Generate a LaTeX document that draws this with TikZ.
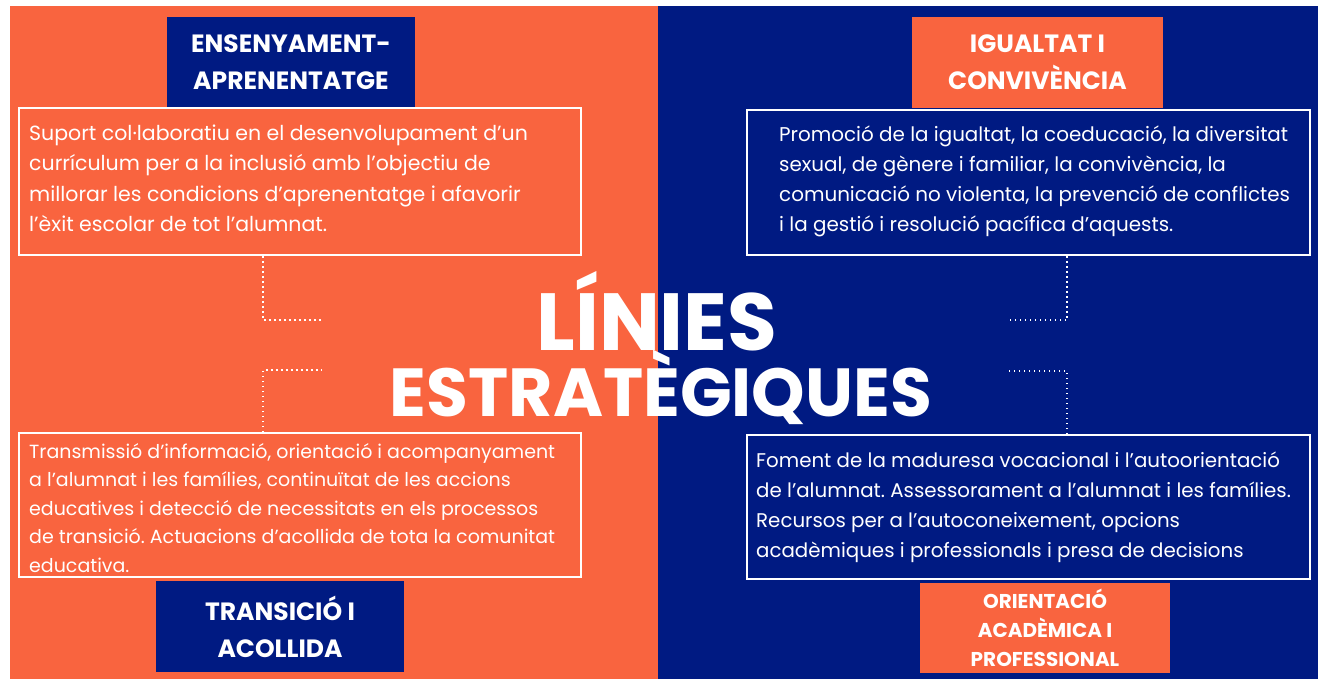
\documentclass[tikz,border=0pt]{standalone}
\usepackage{fontspec}
\setmainfont{Poppins}
\usetikzlibrary{calc}
\definecolor{orng}{RGB}{249,100,63}
\definecolor{navy}{RGB}{0,26,130}
\frenchspacing
\begin{document}
\begin{tikzpicture}[x=1pt,y=-1pt,
  headbox/.style={rectangle, inner sep=0pt, align=center, text=white,
    font=\fontsize{25}{37}\selectfont\bfseries},
  txtbox/.style={rectangle, draw=white, line width=1.8pt, inner sep=0pt},
  body/.style={inner sep=0pt, align=left, text=white, anchor=base west},
  dotline/.style={draw=white, line width=1.6pt, dash pattern=on 1.6pt off 3.4pt},
  titletext/.style={inner sep=0pt, text=white, anchor=base, font=\bfseries}]
\useasboundingbox (0,0) rectangle (1320,679);
\fill[white] (0,0) rectangle (1320,679);
% panels
\fill[orng] (10,6) rectangle (658,679);
\fill[navy] (658,6) rectangle (1318,679);
% heading boxes
\node[headbox, fill=navy, minimum width=248pt, minimum height=91pt] (h1) at (291,62.5) {ENSENYAMENT-\\APRENENTATGE};
\node[headbox, fill=orng, minimum width=251pt, minimum height=91pt] (h2) at (1037.5,62.5) {IGUALTAT I\\CONVIVÈNCIA};
\node[headbox, fill=navy, minimum width=248pt, minimum height=91pt] (h3) at (280,626.5) {TRANSICIÓ I\\ACOLLIDA};
\node[headbox, fill=orng, minimum width=250pt, minimum height=90pt,
  font=\fontsize{20}{29}\selectfont\bfseries] (h4) at (1045,628) {ORIENTACIÓ\\ACADÈMICA I\\PROFESSIONAL};
% text boxes
\node[txtbox, minimum width=562pt, minimum height=147pt] (b1) at (300,181.5) {};
\node[txtbox, minimum width=563pt, minimum height=145pt] (b2) at (1028.5,182.5) {};
\node[txtbox, minimum width=562pt, minimum height=144pt] (b3) at (300,505) {};
\node[txtbox, minimum width=563pt, minimum height=144pt] (b4) at (1028.5,507) {};
% texts (anchored at the baseline of their last line)
\node[body, font=\fontsize{20.5}{30.5}\selectfont] (t1) at (29,232) {Suport col·laboratiu en el desenvolupament d'un\\currículum per a la inclusió amb l'objectiu de\\millorar les condicions d'aprenentatge i afavorir\\l'èxit escolar de tot l'alumnat.};
\node[body, font=\fontsize{19.9}{30}\selectfont] (t2) at (779,232) {Promoció de la igualtat, la coeducació, la diversitat\\sexual, de gènere i familiar, la convivència, la\\comunicació no violenta, la prevenció de conflictes\\i la gestió i resolució pacífica d'aquests.};
\node[body, font=\fontsize{19}{28.5}\selectfont] (t3) at (29,572) {Transmissió d'informació, orientació i acompanyament\\a l'alumnat i les famílies, continuïtat de les accions\\educatives i detecció de necessitats en els processos\\de transició. Actuacions d'acollida de tota la comunitat\\educativa.};
\node[body, font=\fontsize{19.8}{29.7}\selectfont] (t4) at (756,557) {Foment de la maduresa vocacional i l'autoorientació\\de l'alumnat. Assessorament a l'alumnat i les famílies.\\Recursos per a l'autoconeixement, opcions\\acadèmiques i professionals i presa de decisions};
% connectors
\coordinate (k1) at (263,320); \coordinate (e1) at (322,320);
\coordinate (k2) at (1067,320); \coordinate (e2) at (1007,320);
\coordinate (k3) at (263,370); \coordinate (e3) at (322,370);
\coordinate (k4) at (1067,371); \coordinate (e4) at (1007,371);
\draw[dotline] (b1.south -| k1) |- (e1);
\draw[dotline] (b2.south -| k2) |- (e2);
\draw[dotline] (b3.north -| k3) |- (e3);
\draw[dotline] (b4.north -| k4) |- (e4);
% title
\node[titletext, font=\fontsize{81}{81}\selectfont\bfseries] (T1) at (657,350) {LÍNIES};
\node[titletext, font=\fontsize{68}{68}\selectfont\bfseries] (T2) at (661,416) {ESTRATÈGIQUES};
\end{tikzpicture}
\end{document}
